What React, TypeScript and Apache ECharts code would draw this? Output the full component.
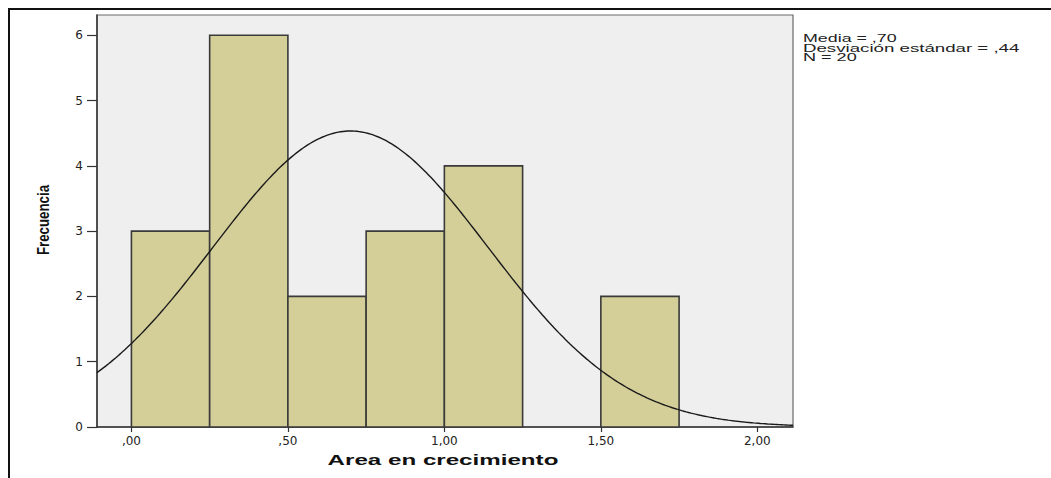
import React, { useEffect, useRef } from "react";
import * as echarts from "echarts";

// Histogram bins (width 0,25) and their frequencies
const binEdges = [0, 0.25, 0.5, 0.75, 1.0, 1.25, 1.5, 1.75];
const frequencies = [3, 6, 2, 3, 4, 0, 2];

// Summary statistics shown in the corner and used for the normal curve
const mean = 0.7;
const stdDev = 0.44;
const sampleSize = 20;

// Axis ticks and their labels (decimal comma, no leading zero)
const xTickValues = [0, 0.5, 1, 1.5, 2];
const xTickLabels = [",00", ",50", "1,00", "1,50", "2,00"];
const yTickValues = [0, 1, 2, 3, 4, 5, 6];
const yTickLabels = ["0", "1", "2", "3", "4", "5", "6"];

const xMin = -0.11;
const xMax = 2.114;
const yMax = 6.31;

const fmt = (v: number) => {
  const s = v.toFixed(2).replace(".", ",");
  return s.startsWith("0,") ? s.slice(1) : s;
};

// Normal curve scaled to the histogram (count × bin width)
function normalCurve(): number[][] {
  const binWidth = binEdges[1] - binEdges[0];
  const k = (sampleSize * binWidth) / (stdDev * Math.sqrt(2 * Math.PI));
  const pts: number[][] = [];
  const steps = 300;
  for (let i = 0; i <= steps; i++) {
    const x = xMin + ((xMax - xMin) * i) / steps;
    const z = (x - mean) / stdDev;
    pts.push([x, k * Math.exp(-0.5 * z * z)]);
  }
  return pts;
}

const statFont = "10.5px 'Liberation Sans', Arial, sans-serif";

export default function App() {
  const ref = useRef<HTMLDivElement>(null);

  useEffect(() => {
    if (!ref.current) return;
    const chart = echarts.init(ref.current, null, { renderer: "svg" });

    const bars = frequencies
      .map((f, i) => [binEdges[i], binEdges[i + 1], f])
      .filter((d) => d[2] > 0);

    chart.setOption({
      animation: false,
      backgroundColor: "#ffffff",
      grid: {
        left: 97,
        top: 15,
        width: 696,
        height: 412,
        show: true,
        backgroundColor: "#efefef",
        borderColor: "#6a6a6a",
        borderWidth: 1.2,
      },
      xAxis: {
        type: "value",
        min: xMin,
        max: xMax,
        splitLine: { show: false },
        axisLine: {
          show: true,
          onZero: false,
          lineStyle: { color: "#333", width: 1.5 },
        },
        axisTick: {
          show: true,
          length: 5,
          customValues: xTickValues,
          lineStyle: { color: "#333", width: 1.2 },
        },
        axisLabel: {
          customValues: xTickValues,
          formatter: (v: number) => {
            const i = xTickValues.findIndex((t) => Math.abs(t - v) < 1e-6);
            return i >= 0 ? xTickLabels[i] : "";
          },
          margin: 8,
          fontFamily: "DejaVu Sans",
          fontSize: 12,
          color: "#222",
        },
      },
      yAxis: {
        type: "value",
        min: 0,
        max: yMax,
        splitLine: { show: false },
        axisLine: {
          show: true,
          onZero: false,
          lineStyle: { color: "#333", width: 1.5 },
        },
        axisTick: {
          show: true,
          length: 10,
          customValues: yTickValues,
          lineStyle: { color: "#333", width: 1.2 },
        },
        axisLabel: {
          customValues: yTickValues,
          formatter: (v: number) => {
            const i = yTickValues.findIndex((t) => Math.abs(t - v) < 1e-6);
            return i >= 0 ? yTickLabels[i] : "";
          },
          margin: 14,
          fontFamily: "DejaVu Sans",
          fontSize: 12,
          color: "#222",
        },
      },
      series: [
        {
          type: "custom",
          data: bars,
          encode: { x: [0, 1], y: 2 },
          renderItem: (params: any, api: any) => {
            const p0 = api.coord([api.value(0), api.value(2)]);
            const p1 = api.coord([api.value(1), 0]);
            return {
              type: "rect",
              shape: {
                x: p0[0],
                y: p0[1],
                width: p1[0] - p0[0],
                height: p1[1] - p0[1],
              },
              style: { fill: "#d4cf99", stroke: "#3a3a3a", lineWidth: 1.6 },
            };
          },
          z: 2,
        },
        {
          type: "line",
          data: normalCurve(),
          showSymbol: false,
          symbol: "none",
          smooth: false,
          clip: true,
          lineStyle: { color: "#1a1a1a", width: 1.4 },
          z: 3,
        },
      ],
      graphic: [
        // outer frame
        {
          type: "line",
          shape: { x1: 8, y1: 9, x2: 1051, y2: 9 },
          style: { stroke: "#111", lineWidth: 2 },
        },
        {
          type: "line",
          shape: { x1: 9, y1: 8, x2: 9, y2: 478 },
          style: { stroke: "#111", lineWidth: 2 },
        },
        // statistics box
        {
          type: "text",
          x: 803,
          y: 38.5,
          scaleX: 1.7,
          style: {
            text: `Media = ${fmt(mean)}`,
            font: statFont,
            fill: "#222",
            align: "left",
            verticalAlign: "middle",
            textAlign: "left",
            textVerticalAlign: "middle",
          },
        },
        {
          type: "text",
          x: 803,
          y: 48,
          scaleX: 1.78,
          style: {
            text: `Desviación estándar = ${fmt(stdDev)}`,
            font: statFont,
            fill: "#222",
            align: "left",
            verticalAlign: "middle",
            textAlign: "left",
            textVerticalAlign: "middle",
          },
        },
        {
          type: "text",
          x: 803,
          y: 57.5,
          scaleX: 1.72,
          style: {
            text: `N = ${sampleSize}`,
            font: statFont,
            fill: "#222",
            align: "left",
            verticalAlign: "middle",
            textAlign: "left",
            textVerticalAlign: "middle",
          },
        },
        // x axis title
        {
          type: "text",
          x: 443,
          y: 459.7,
          scaleX: 1.61,
          style: {
            text: "Area en crecimiento",
            font: "bold 15px 'Liberation Sans', Arial, sans-serif",
            fill: "#111",
            align: "center",
            verticalAlign: "middle",
            textAlign: "center",
            textVerticalAlign: "middle",
          },
        },
        // y axis title
        {
          type: "text",
          x: 44,
          y: 220,
          rotation: Math.PI / 2,
          scaleX: 0.83,
          style: {
            text: "Frecuencia",
            font: "bold 16px 'Liberation Sans', Arial, sans-serif",
            fill: "#111",
            align: "center",
            verticalAlign: "middle",
            textAlign: "center",
            textVerticalAlign: "middle",
          },
        },
      ],
    });

    return () => chart.dispose();
  }, []);

  return (
    <div
      ref={ref}
      style={{ position: "fixed", left: 0, top: 0, width: 1051, height: 478 }}
    />
  );
}
